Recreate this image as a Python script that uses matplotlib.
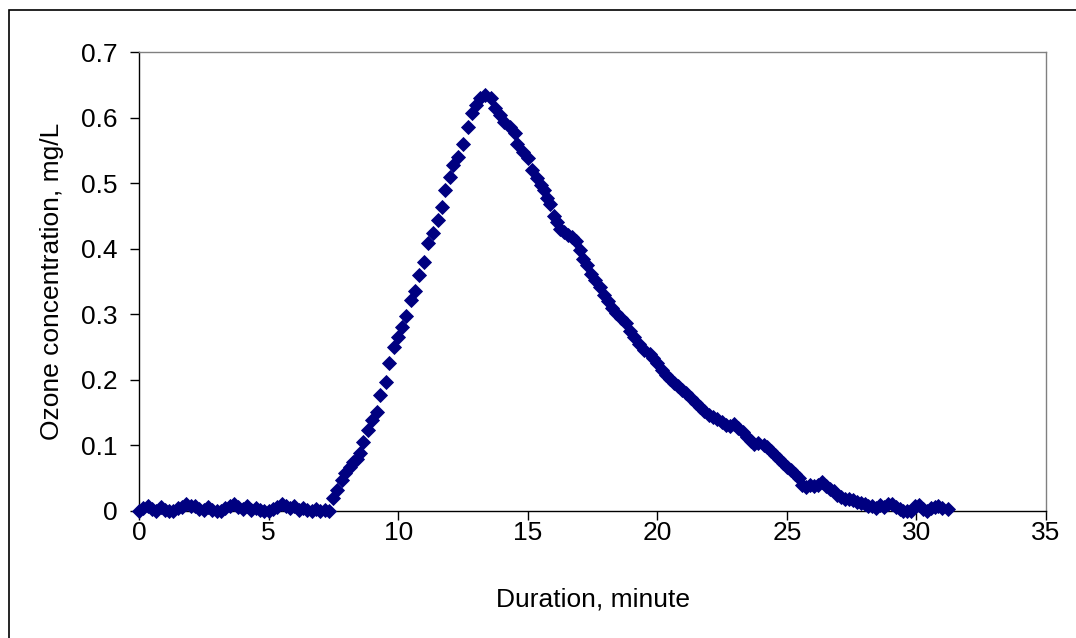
import matplotlib
matplotlib.use('Agg')
import matplotlib.pyplot as plt
from matplotlib.patches import Rectangle

# Temps (minutes) et concentration d'ozone (mg/L)
time_min = [
    0.0, 0.17, 0.33, 0.5, 0.67, 0.83, 1.0, 1.17, 1.33, 1.5, 1.67, 1.83, 2.0, 2.17,
    2.33, 2.5, 2.67, 2.83, 3.0, 3.17, 3.33, 3.5, 3.67, 3.83, 4.0, 4.17, 4.33, 4.5,
    4.67, 4.83, 5.0, 5.17, 5.33, 5.5, 5.67, 5.83, 6.0, 6.17, 6.33, 6.5, 6.67, 6.83,
    7.0, 7.17, 7.33,
    7.5, 7.64, 7.84, 7.95, 8.15, 8.26, 8.4, 8.53, 8.65, 8.84, 9.0, 9.2, 9.3, 9.54,
    9.65, 9.85, 10.0, 10.15, 10.3, 10.5, 10.66, 10.8, 11.0, 11.16, 11.35, 11.55,
    11.7, 11.8, 12.0, 12.1, 12.3, 12.5, 12.7, 12.86, 13.0, 13.17, 13.36,
    13.6, 13.75, 13.94, 14.1, 14.3, 14.5, 14.6, 14.8, 15.0, 15.17, 15.37, 15.5,
    15.62, 15.75, 15.87, 16.0, 16.13, 16.25, 16.4, 16.55, 16.7, 16.85, 17.0, 17.15,
    17.3, 17.45, 17.6, 17.8, 17.95, 18.1, 18.25, 18.4, 18.6, 18.8, 18.95, 19.1,
    19.3, 19.5, 19.7, 19.85, 20.0, 20.2, 20.35, 20.5, 20.65, 20.8, 20.95, 21.1,
    21.3, 21.5, 21.66, 21.8, 22.0, 22.15, 22.3, 22.5, 22.65, 22.8, 22.95, 23.1,
    23.3, 23.45, 23.6, 23.75, 23.9, 24.1, 24.25, 24.4, 24.55, 24.7, 24.85, 25.0,
    25.15, 25.3, 25.45, 25.6, 25.75, 25.9, 26.05, 26.2, 26.35, 26.5, 26.65, 26.8,
    26.95, 27.1, 27.25, 27.4, 27.55, 27.7, 27.85, 28.0, 28.15, 28.3, 28.45, 28.6,
    28.75, 28.9, 29.05, 29.2, 29.35, 29.5, 29.65, 29.8, 29.95, 30.1, 30.25, 30.4,
    30.55, 30.7, 30.85, 31.0, 31.2,
]
ozone_mgL = [
    0.0, 0.005, 0.008, 0.003, 0.0, 0.006, 0.002, 0.0, 0.0, 0.004, 0.006, 0.011, 0.007, 0.008,
    0.003, 0.001, 0.006, 0.002, 0.0, 0.0, 0.004, 0.008, 0.011, 0.006, 0.003, 0.007, 0.002, 0.005,
    0.001, 0.0, 0.0, 0.003, 0.006, 0.011, 0.007, 0.004, 0.008, 0.002, 0.005, 0.001, 0.0, 0.003,
    0.0, 0.001, 0.0,
    0.02, 0.032, 0.047, 0.058, 0.067, 0.075, 0.08, 0.088, 0.105, 0.123, 0.139, 0.151, 0.177, 0.197,
    0.226, 0.25, 0.265, 0.281, 0.297, 0.322, 0.336, 0.36, 0.38, 0.409, 0.424, 0.444,
    0.464, 0.49, 0.51, 0.528, 0.54, 0.56, 0.586, 0.607, 0.619, 0.63, 0.634,
    0.63, 0.615, 0.604, 0.593, 0.586, 0.576, 0.56, 0.548, 0.538, 0.52, 0.508, 0.497,
    0.49, 0.477, 0.468, 0.45, 0.44, 0.43, 0.425, 0.421, 0.418, 0.412, 0.398, 0.385,
    0.375, 0.362, 0.352, 0.342, 0.33, 0.32, 0.31, 0.302, 0.295, 0.287, 0.275, 0.265,
    0.255, 0.246, 0.24, 0.234, 0.225, 0.215, 0.208, 0.202, 0.195, 0.19, 0.185, 0.18,
    0.172, 0.165, 0.158, 0.152, 0.147, 0.143, 0.14, 0.136, 0.131, 0.13, 0.132, 0.127,
    0.12, 0.113, 0.106, 0.102, 0.104, 0.1, 0.097, 0.092, 0.085, 0.079, 0.073, 0.067,
    0.062, 0.057, 0.05, 0.04, 0.037, 0.04, 0.038, 0.04, 0.044, 0.038, 0.034, 0.03,
    0.025, 0.022, 0.019, 0.018, 0.017, 0.014, 0.012, 0.01, 0.007, 0.008, 0.005, 0.009,
    0.006, 0.011, 0.01, 0.006, 0.003, 0.0, 0.0, 0.0, 0.007, 0.009, 0.003, 0.0,
    0.004, 0.006, 0.007, 0.005, 0.003,
]

x_ticks = [0, 5, 10, 15, 20, 25, 30, 35]
y_ticks = [0, 0.1, 0.2, 0.3, 0.4, 0.5, 0.6, 0.7]
y_tick_labels = ['0', '0.1', '0.2', '0.3', '0.4', '0.5', '0.6', '0.7']

plt.rcParams['font.family'] = ['Liberation Sans', 'DejaVu Sans']

W, H = 1076, 638
fig = plt.figure(figsize=(W / 100, H / 100), dpi=100)
ax = fig.add_axes([139 / W, 1 - 511 / H, (1046 - 139) / W, (511 - 52) / H])

ax.plot(time_min, ozone_mgL, linestyle='none', marker='D', markersize=7.6,
        color='#000080', markeredgecolor='#000080', markeredgewidth=0.6,
        clip_on=False, zorder=3)

ax.set_xlim(0, 35)
ax.set_ylim(0, 0.7)
ax.set_xticks(x_ticks)
ax.set_yticks(y_ticks)
ax.set_yticklabels(y_tick_labels)
ax.tick_params(axis='both', direction='out', length=6.5, width=1, labelsize=19, color='black')
ax.tick_params(axis='x', pad=0.5)
ax.tick_params(axis='y', pad=9)

for side in ['top', 'right']:
    ax.spines[side].set_color('#808080')
for side in ['left', 'bottom']:
    ax.spines[side].set_color('black')
for sp in ax.spines.values():
    sp.set_linewidth(1)

ax.set_xlabel('Duration, minute', fontsize=19, labelpad=31)
ax.set_ylabel('Ozone concentration, mg/L', fontsize=19, labelpad=12)

# cadre extérieur du graphique
fig.patches.append(Rectangle((9 / W, -0.05), 1.2, 1 - 10 / H + 0.05, transform=fig.transFigure,
                             fill=False, edgecolor='black', linewidth=1.2))

fig.savefig('out.png', dpi=100)
